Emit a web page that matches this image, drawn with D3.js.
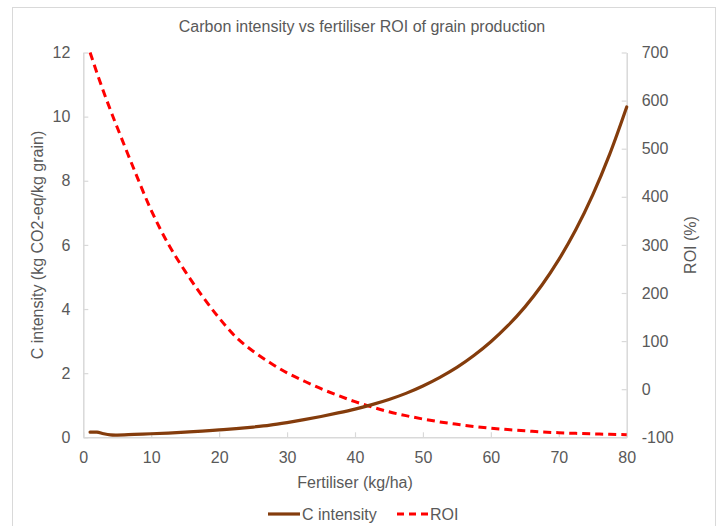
<!DOCTYPE html>
<html><head><meta charset="utf-8">
<script src="https://cdn.jsdelivr.net/npm/d3@7"></script>
<style>body{margin:0;background:#fff}svg{display:block}text{font-family:"Liberation Sans",Arial,sans-serif;fill:#595959}</style>
</head><body><svg id="c" width="723" height="526"></svg>
<script>
const title = "Carbon intensity vs fertiliser ROI of grain production";
const xLabel = "Fertiliser (kg/ha)";
const yLeftLabel = "C intensity (kg CO2-eq/kg grain)";
const yRightLabel = "ROI (%)";
const seriesNames = ["C intensity", "ROI"];
const fertiliser = [1,2,3,4,5,7.5,10,12.5,15,17.5,20,22.5,25,27.5,30,32.5,35,37.5,40,42.5,45,47.5,50,52.5,55,57.5,60,62.5,65,67.5,70,72.5,75,77.5,80];
const cIntensity = [0.16,0.16,0.11,0.075,0.07,0.09,0.11,0.13,0.16,0.19,0.23,0.27,0.32,0.38,0.46,0.55,0.65,0.76,0.88,1.02,1.18,1.37,1.60,1.87,2.18,2.55,2.98,3.48,4.06,4.74,5.54,6.47,7.56,8.83,10.30];
const roi = [700,658,618,580,544,456,372,302,245,194,148,108,79,55,34,17,1,-13,-26,-37,-47,-55,-62,-68,-73,-77.5,-81,-84,-86.5,-88.8,-90.5,-91.8,-92.9,-93.7,-94.5];
const xTicks = [0,10,20,30,40,50,60,70,80];
const yLeftTicks = [0,2,4,6,8,10,12];
const yRightTicks = [-100,0,100,200,300,400,500,600,700];

const svg = d3.select("#c");
const L = 83.3, R = 626.7, T = 52.5, B = 437.3;
const x = d3.scaleLinear().domain([0,80]).range([L,R]);
const yL = d3.scaleLinear().domain([0,12]).range([B,T]);
const yR = d3.scaleLinear().domain([-100,700]).range([B,T]);

svg.append("rect").attr("x",12.5).attr("y",7.5).attr("width",703).attr("height",540)
  .attr("fill","none").attr("stroke","#d9d9d9").attr("stroke-width",1);

svg.append("text").attr("x",362).attr("y",32).attr("text-anchor","middle").attr("font-size",16).text(title);

const fmt = d => String(d);
const styleAxis = (g) => {
  g.select(".domain").attr("stroke","#d9d9d9").attr("stroke-width",1.5);
  g.selectAll(".tick line").attr("stroke","#d9d9d9").attr("stroke-width",1.2);
  g.selectAll(".tick text").attr("font-size",16).attr("fill","#595959").style("font-family","'Liberation Sans',Arial,sans-serif");
};

const gx = svg.append("g").attr("transform",`translate(0,${B})`)
  .call(d3.axisBottom(x).tickValues(xTicks).tickFormat(fmt).tickSize(-5).tickSizeOuter(0).tickPadding(14));
styleAxis(gx);
const gl = svg.append("g").attr("transform",`translate(${L},0)`)
  .call(d3.axisLeft(yL).tickValues(yLeftTicks).tickFormat(fmt).tickSize(-5).tickSizeOuter(0).tickPadding(13));
styleAxis(gl);
const gr = svg.append("g").attr("transform",`translate(${R},0)`)
  .call(d3.axisRight(yR).tickValues(yRightTicks).tickFormat(fmt).tickSize(-5).tickSizeOuter(0).tickPadding(15));
styleAxis(gr);

svg.append("text").attr("x",355).attr("y",488).attr("text-anchor","middle").attr("font-size",16).text(xLabel);
svg.append("text").attr("transform","translate(43,245) rotate(-90)").attr("text-anchor","middle").attr("font-size",16).text(yLeftLabel);
svg.append("text").attr("transform","translate(696,245) rotate(-90)").attr("text-anchor","middle").attr("font-size",16).text(yRightLabel);

const idx = d3.range(fertiliser.length);
const cLine = d3.line().x(i=>x(fertiliser[i])).y(i=>yL(cIntensity[i])).curve(d3.curveCatmullRom.alpha(0.5));
const rLine = d3.line().x(i=>x(fertiliser[i])).y(i=>yR(roi[i])).curve(d3.curveCatmullRom.alpha(0.5));

svg.append("path").attr("d",rLine(idx)).attr("fill","none").attr("stroke","#FF0000").attr("stroke-width",3).attr("stroke-dasharray","8,5");
svg.append("path").attr("d",cLine(idx)).attr("fill","none").attr("stroke","#843C0C").attr("stroke-width",3.2).attr("stroke-linecap","round");

// legend
const lg = svg.append("g");
lg.append("line").attr("x1",268).attr("x2",300).attr("y1",514).attr("y2",514).attr("stroke","#843C0C").attr("stroke-width",3.2);
lg.append("text").attr("x",302).attr("y",520).attr("font-size",16).text(seriesNames[0]);
lg.append("line").attr("x1",397).attr("x2",428).attr("y1",514).attr("y2",514).attr("stroke","#FF0000").attr("stroke-width",3).attr("stroke-dasharray","7,5");
lg.append("text").attr("x",430).attr("y",520).attr("font-size",16).text(seriesNames[1]);
</script></body></html>
